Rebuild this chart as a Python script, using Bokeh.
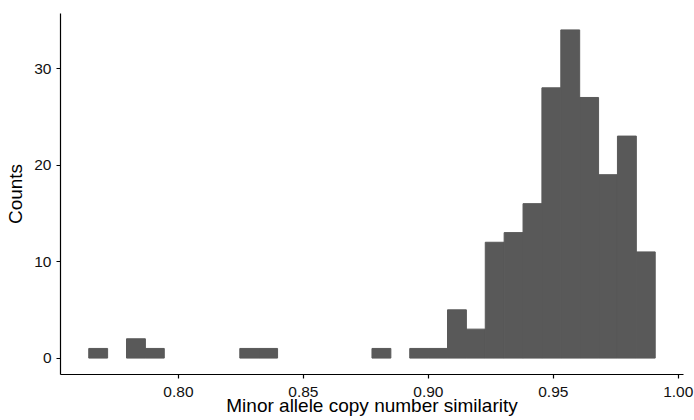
from bokeh.plotting import figure
from bokeh.models import Range1d, FixedTicker, CustomJSTickFormatter
from bokeh.embed import file_html
from bokeh.resources import INLINE

# Histogram of minor allele copy number similarity (30 bins)
bin_start = 0.7641
bin_width = 0.007556
counts = [1, 0, 2, 1, 0, 0, 0, 0, 1, 1,
          0, 0, 0, 0, 0, 1, 0, 1, 1, 5,
          3, 12, 13, 16, 28, 34, 27, 19, 23, 11]
x_ticks = [0.80, 0.85, 0.90, 0.95, 1.00]
y_ticks = [0, 10, 20, 30]
x_title = "Minor allele copy number similarity"
y_title = "Counts"

lefts = [bin_start + i * bin_width for i in range(len(counts))]
rights = [l + bin_width for l in lefts]
# zero-count bins are not drawn
keep = [i for i, c in enumerate(counts) if c > 0]

FONT = "Liberation Sans"

p = figure(width=694, height=420, output_backend="svg", toolbar_location=None,
           x_range=Range1d(0.7528, 1.0021), y_range=Range1d(-1.7, 35.7),
           min_border_left=60, min_border_right=11, min_border_top=13, min_border_bottom=46)
p.outline_line_color = None
p.grid.visible = False
p.background_fill_color = "white"
p.border_fill_color = "white"

p.quad(left=[lefts[i] for i in keep], right=[rights[i] for i in keep],
       bottom=0, top=[counts[i] for i in keep],
       fill_color="#595959", line_color="#595959", line_width=1)

for ax in (p.xaxis[0], p.yaxis[0]):
    ax.axis_line_color = "black"
    ax.axis_line_width = 1.2
    ax.major_tick_line_color = "black"
    ax.major_tick_line_width = 1.2
    ax.major_tick_in = 0
    ax.major_tick_out = 4
    ax.minor_tick_line_color = None
    ax.major_label_text_font = FONT
    ax.major_label_text_font_size = "15.5px"
    ax.major_label_text_color = "#111111"
    ax.axis_label_text_font = FONT
    ax.axis_label_text_font_size = "19px"
    ax.axis_label_text_font_style = "normal"
    ax.axis_label_text_color = "black"

p.xaxis.ticker = FixedTicker(ticks=x_ticks)
p.yaxis.ticker = FixedTicker(ticks=y_ticks)
p.xaxis.formatter = CustomJSTickFormatter(code="return tick.toFixed(2);")
p.xaxis.axis_label = x_title
p.yaxis.axis_label = y_title
p.xaxis.major_label_standoff = 8
p.xaxis.axis_label_standoff = -5
p.yaxis.major_label_standoff = 5
p.yaxis.axis_label_standoff = 5

open("out.html", "w").write(file_html(p, INLINE))
